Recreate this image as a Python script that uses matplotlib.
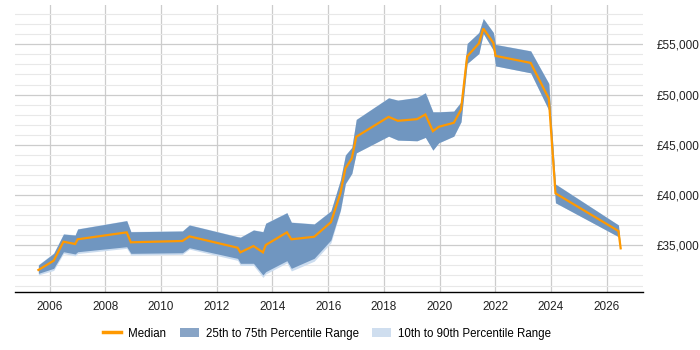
import matplotlib
matplotlib.use("Agg")
import matplotlib.pyplot as plt
from matplotlib.ticker import MultipleLocator, FuncFormatter
from matplotlib.lines import Line2D
from matplotlib.patches import Patch

plt.rcParams['font.family'] = ['Liberation Sans', 'DejaVu Sans']

years = [2005.60, 2006.15, 2006.50, 2006.92, 2007.01, 2008.77, 2008.92, 2010.77,
         2011.02, 2012.75, 2012.85, 2013.32, 2013.66, 2013.76, 2014.52, 2014.68,
         2015.50, 2016.10, 2016.44, 2016.62, 2016.85, 2017.01, 2018.17, 2018.50,
         2019.19, 2019.49, 2019.76, 2019.97, 2020.51, 2020.77, 2020.99, 2021.41,
         2021.57, 2021.93, 2022.01, 2023.27, 2023.92, 2024.16, 2026.42, 2026.50]

median = [32545, 33470, 35360, 35130, 35600, 36290, 35300, 35430,
          35890, 34760, 34300, 34930, 34300, 35030, 36290, 35600,
          35850, 37300, 40170, 42650, 43650, 45800, 47780, 47390,
          47550, 48020, 46360, 46790, 47190, 48500, 53800, 55080,
          56570, 55140, 53850, 53150, 49610, 40170, 36420, 34700]

p25 = [32210, 32710, 34360, 34140, 34360, 34860, 34200, 34260,
       34760, 33700, 33210, 33210, 32050, 32380, 33470, 32710,
       33710, 35530, 38510, 41160, 42160, 44200, 45860, 45470,
       45400, 45740, 44470, 45200, 45860, 47290, 53090, 54080,
       56070, 54410, 52850, 52160, 48450, 39230, 35860, 34700]

p75 = [33040, 34200, 36120, 36020, 36620, 37450, 36350, 36420,
       37020, 35850, 35800, 36520, 36350, 37190, 38240, 37290,
       37120, 38420, 41500, 43980, 44740, 47520, 49670, 49440,
       49710, 50170, 48280, 48280, 48350, 49270, 55080, 56170,
       57560, 56170, 54980, 54340, 51100, 41090, 37020, 34700]

p10 = [32050, 32500, 34180, 33950, 34180, 34700, 34020, 34100,
       34620, 33500, 33000, 33000, 31800, 32150, 33250, 32450,
       33420, 35250, 38400, 41100, 42100, 44200, 45860, 45470,
       45400, 45740, 44470, 45200, 45860, 47290, 53090, 54080,
       56070, 54410, 52850, 52160, 48450, 39230, 35860, 34700]

p90 = [33080, 34250, 36150, 36050, 36650, 37480, 36380, 36450,
       37050, 35880, 35830, 36550, 36380, 37220, 38270, 37320,
       37150, 38450, 41520, 44000, 44760, 47540, 49690, 49460,
       49730, 50190, 48300, 48300, 48370, 49290, 55100, 56190,
       57580, 56190, 55000, 54360, 51120, 41110, 37040, 34700]

xtick_years = [2006, 2008, 2010, 2012, 2014, 2016, 2018, 2020, 2022, 2024, 2026]

c_med = '#ff9900'
c_iqr = '#7096c0'
c_dec = '#cbdcef'

fig = plt.figure(figsize=(7, 3.5), dpi=100)
ax = fig.add_axes([0.0214, 0.165, 0.8967, 0.821])

ax.fill_between(years, p10, p90, color=c_dec, lw=0, zorder=2)
ax.fill_between(years, p25, p75, color=c_iqr, lw=0, zorder=3)
ax.plot(years, median, color=c_med, lw=1.6, zorder=4, solid_joinstyle='miter')

ax.set_xlim(2004.76, 2027.29)
ax.set_ylim(30330, 58920)

ax.set_xticks(xtick_years)
ax.set_xticklabels([str(y) for y in xtick_years])
ax.yaxis.set_major_locator(MultipleLocator(5000))
ax.yaxis.set_minor_locator(MultipleLocator(1000))
ax.yaxis.set_major_formatter(FuncFormatter(lambda v, p: '£{:,.0f}'.format(v)))
ax.yaxis.tick_right()

ax.grid(True, which='major', axis='both', color='#cccccc', lw=0.9, zorder=0)
ax.grid(True, which='minor', axis='y', color='#e8e8e8', lw=0.8, zorder=0)
ax.set_axisbelow(True)

for s in ['top', 'left', 'right']:
    ax.spines[s].set_visible(False)
ax.spines['bottom'].set_color('black')
ax.spines['bottom'].set_linewidth(1.0)

ax.tick_params(axis='both', which='both', length=0, labelsize=8.5, colors='#222222')
ax.tick_params(axis='x', pad=6)
ax.tick_params(axis='y', pad=10)

handles = [Line2D([0], [0], color=c_med, lw=2.5),
           Patch(facecolor='#88a4c6', edgecolor='none'),
           Patch(facecolor='#cfdeef', edgecolor='none')]
labels = ['Median', '25th to 75th Percentile Range', '10th to 90th Percentile Range']
fig.legend(handles, labels, loc='center', bbox_to_anchor=(0.467, 0.047), ncol=3,
           frameon=False, fontsize=8.3, handlelength=1.6, handleheight=0.9,
           columnspacing=1.2, handletextpad=0.6)

fig.savefig('out.png', dpi=100)
